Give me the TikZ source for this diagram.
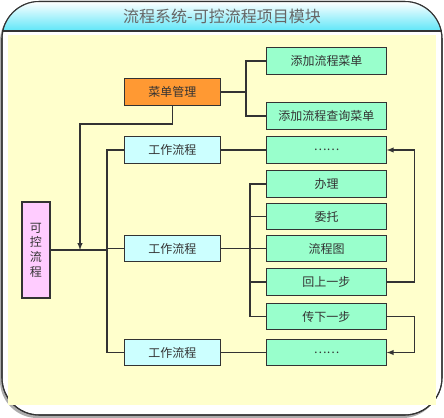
\documentclass[tikz,border=0pt]{standalone}
\usepackage{fontspec}
\setmainfont{Noto Sans CJK SC}
\usepackage{tikz}
\definecolor{green3}{HTML}{99FFCC}
\definecolor{cyan3}{HTML}{CCFFFF}
\definecolor{orange3}{HTML}{FF9933}
\definecolor{pink3}{HTML}{FFCCFF}
\definecolor{yellow3}{HTML}{FFFFCC}
\definecolor{title3}{HTML}{5EE6F8}
\definecolor{line3}{HTML}{333333}

\begin{document}
\begin{tikzpicture}[x=0.75pt, y=-0.75pt, >=latex, line width=0.8pt,
  every node/.style={font=\small, text=line3},
  box/.style={draw=line3, inner sep=0pt, minimum height=19.8pt},
  leaf/.style={box, fill=green3, minimum width=89.5pt},
  flow/.style={box, fill=cyan3, minimum width=71.5pt},
  menu/.style={box, fill=orange3, minimum width=71.5pt},
  root/.style={box, fill=pink3, minimum width=21pt, minimum height=72pt, align=center}]

  \useasboundingbox (0,0) rectangle (444,418);

  % frame
  \fill[gray!65, rounded corners=28] (0,4) rectangle (440,418);
  \draw[line3, fill=white, rounded corners=28] (2,1.5) rectangle (442,415);
  \begin{scope}
    \clip[rounded corners=28] (2,1.5) rectangle (442,415);
    \shade[top color=white, bottom color=title3] (2,1.5) rectangle (442,31);
  \end{scope}
  \draw[line3, rounded corners=28] (2,1.5) rectangle (442,415);
  \draw[line3] (2,31) -- (442,31);
  \fill[yellow3] (8,35) rectangle (436,405);
  \node[font=\large, text=gray!80!black] (title) at (222,16) {流程系统-可控流程项目模块};

  \node[menu] (menu) at (172.5,92) {菜单管理};
  \node[leaf] (addmenu) at (326.5,61) {添加流程菜单};
  \node[leaf] (addquery) at (326.5,116) {添加流程查询菜单};

  \node[root] (root) at (36,250) {可\\控\\流\\程};

  \node[flow] (flowa) at (172.5,150) {工作流程};
  \node[flow] (flowb) at (172.5,248.5) {工作流程};
  \node[flow] (flowc) at (172.5,352.5) {工作流程};

  \node[leaf] (dotsa) at (326.5,150) {……};
  \node[leaf] (handle) at (326.5,184) {办理};
  \node[leaf] (entrust) at (326.5,216.5) {委托};
  \node[leaf] (chart) at (326.5,248.5) {流程图};
  \node[leaf] (back) at (326.5,282) {回上一步};
  \node[leaf] (pass) at (326.5,316.5) {传下一步};
  \node[leaf] (dotsc) at (326.5,352.5) {……};

  \coordinate (jm) at (246,92);
  \coordinate (bend) at (80,124);
  \coordinate (tip) at (80,250);
  \coordinate (spine) at (107,250);
  \coordinate (jb) at (250,248.5);

  \draw[line3] (menu) -- (jm);
  \draw[line3] (addmenu.west) -| (jm) |- (addquery.west);
  \draw[line3, ->] (menu.south) |- (bend) -- (tip);

  \draw[line3] (root.east) -- (spine);
  \draw[line3] (flowa.west) -| (spine) |- (flowc.west);
  \draw[line3] (flowb.west) -- (flowb.west -| spine);

  \draw[line3] (flowa) -- (dotsa);
  \draw[line3] (flowb) -- (chart);
  \draw[line3] (flowc) -- (dotsc);
  \draw[line3] (handle.west) -| (jb) |- (pass.west);
  \draw[line3] (entrust.west) -- (entrust.west -| jb);
  \draw[line3] (back.west) -- (back.west -| jb);

  \draw[line3, ->] (back.east) -- ++(28,0) |- (dotsa.east);
  \draw[line3, ->] (pass.east) -- ++(28,0) |- (dotsc.east);

\end{tikzpicture}
\end{document}
